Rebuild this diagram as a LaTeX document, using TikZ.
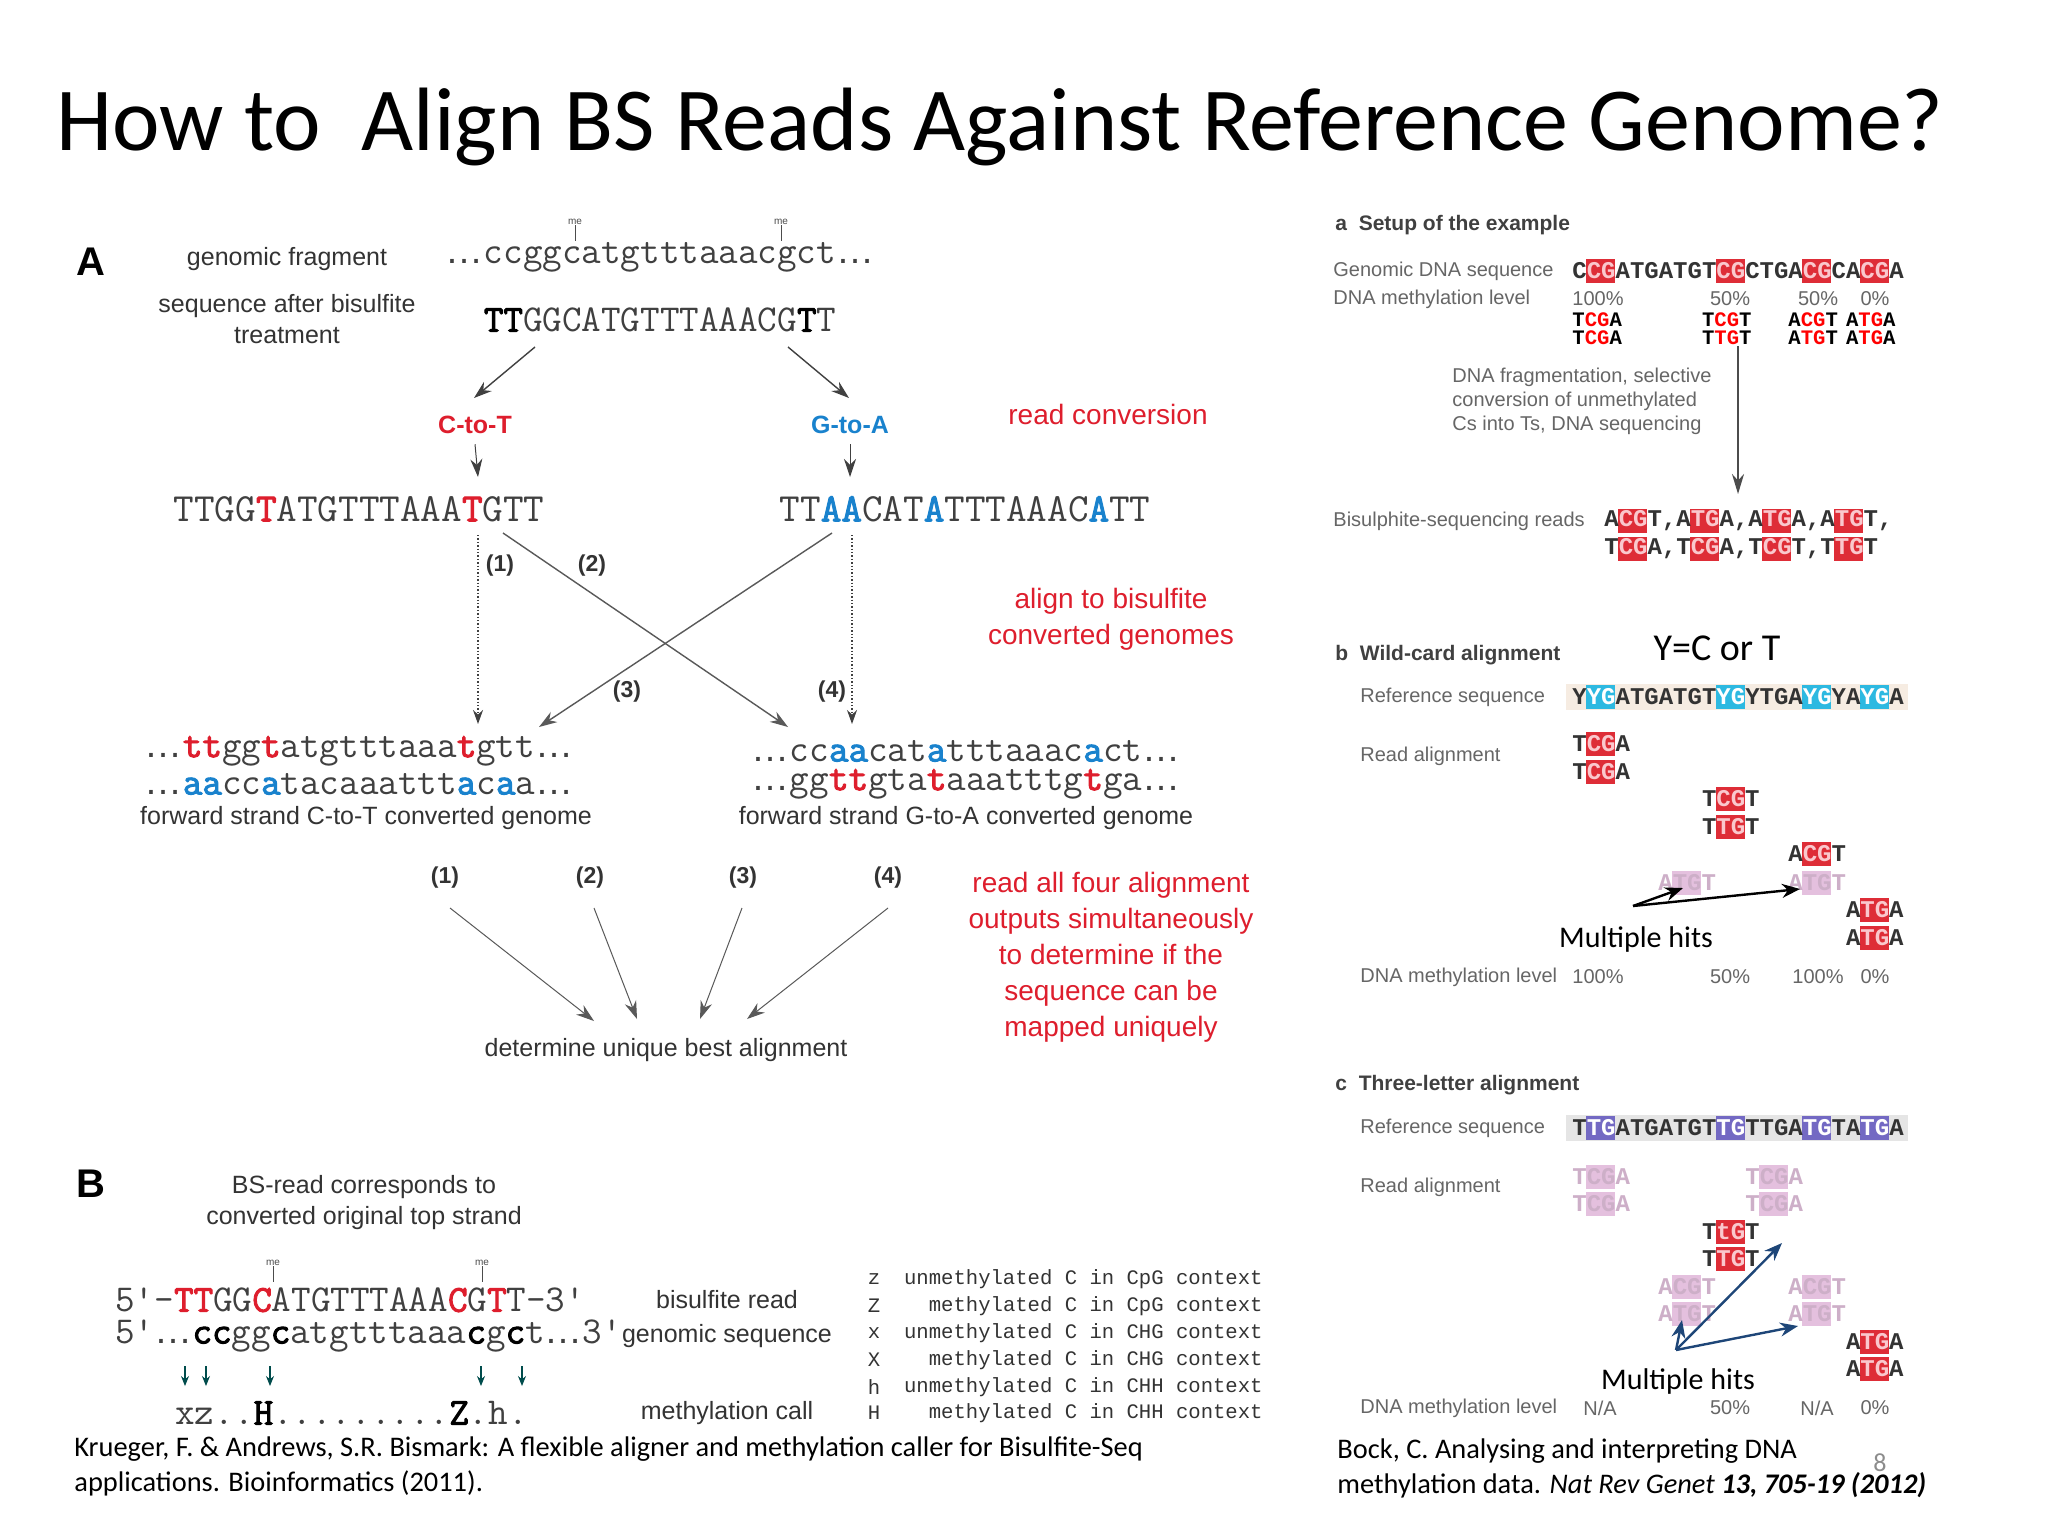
\documentclass[tikz,border=0pt]{standalone}
\usepackage{fontspec}
\setmainfont{Carlito}
\setsansfont{Liberation Sans}
\newfontfamily\lmtt{Latin Modern Mono}
\newfontfamily\lmttb[FakeBold=2.5]{Latin Modern Mono}
\newfontfamily\lmono{Liberation Mono}
\usetikzlibrary{arrows.meta}
\definecolor{cr}{RGB}{222,30,45}
\definecolor{cb}{RGB}{25,130,205}
\definecolor{bxr}{RGB}{222,45,55}
\definecolor{bxc}{RGB}{45,185,225}
\definecolor{bxp}{RGB}{115,105,195}
\definecolor{bxf}{RGB}{228,192,222}
\definecolor{txf}{RGB}{205,175,200}
\definecolor{lt}{RGB}{250,200,205}
\definecolor{nav}{RGB}{30,70,120}
\newcommand\RR[1]{{\lmttb\color{cr}#1}}
\newcommand\BB[1]{{\lmttb\color{cb}#1}}
\newcommand\KK[1]{{\lmttb\color{black}#1}}
\newcommand\el{{\sffamily\ldots}}
\tikzset{
 lab/.style={font=\sffamily\fontsize{12.5}{15.5}\selectfont, text=black!80, inner sep=0, align=center},
 redlab/.style={font=\sffamily\fontsize{14}{18}\selectfont, text=cr, align=center, inner sep=0},
 seqA/.style={font=\lmtt\fontsize{19}{20}\selectfont, inner sep=0, text=black!75},
 num/.style={font=\sffamily\bfseries\fontsize{11.5}{12}\selectfont, text=black!80, inner sep=0},
 small/.style={font=\sffamily\fontsize{10}{12}\selectfont, text=black!60, inner sep=0, anchor=west},
 hdr/.style={font=\sffamily\bfseries\fontsize{10.5}{12}\selectfont, text=black!75, inner sep=0, anchor=west},
 rs/.style={font=\lmono\bfseries\fontsize{12}{12}\selectfont, inner sep=0, anchor=west, text=black!80},
 leg/.style={font=\lmono\fontsize{10.3}{12}\selectfont, inner sep=0, text=black!80},
 cite/.style={font=\fontsize{14.2}{16}\selectfont, inner sep=0, anchor=west},
 me/.style={font=\sffamily\fontsize{5}{5}\selectfont, text=black!70, inner sep=0},
 arr/.style={-{Stealth[length=9pt,width=6pt]}, black!75, line width=0.7pt},
 darr/.style={-{Stealth[length=7pt,width=5pt]}, black!75, densely dotted, line width=0.7pt},
 harr/.style={-{Stealth[length=9pt,width=7pt]}, line width=1.2pt},
}
\newcommand\bseq[5]{\foreach \k in {#4}{\fill[#3] ({#1+\k*14.4},{#2-12}) rectangle ++(28.8,24);}\node[rs] at (#1,#2) {#5};}
\begin{document}
\begin{tikzpicture}[x=0.5pt,y=-0.5pt]
\useasboundingbox[fill=white] (0,0) rectangle (2048,1536);
\node[anchor=base west, inner sep=0, font=\fontsize{45}{50}\selectfont] (title) at (56,150) {How to\ \ Align BS Reads Against Reference Genome?};
\node[font=\sffamily\bfseries\fontsize{20}{20}\selectfont, inner sep=0] (pA) at (91,262) {A};
\node[lab] (gf) at (287,259) {genomic fragment};
\node[seqA] (gseq) at (660,257) {\el ccggcatgtttaaacgct\el};
\node[me] (me1) at (575,222) {me};
\node[me] (me2) at (781,222) {me};
\draw[black!70] (me1.south) -- ++(0,16);
\draw[black!70] (me2.south) -- ++(0,16);
\node[lab] (sab) at (287,319) {sequence after bisulfite\\treatment};
\node[seqA] (bseq) at (660,320) {\KK{TT}GGCATGTTTAAACG\KK{T}T};
\coordinate (a1s) at (535,347); \coordinate (a1e) at (474,398);
\coordinate (a2s) at (788,347); \coordinate (a2e) at (849,398);
\draw[arr] (a1s) -- (a1e);
\draw[arr] (a2s) -- (a2e);
\node[font=\sffamily\bfseries\fontsize{12.5}{14}\selectfont, text=cr, inner sep=0] (ct) at (475,425) {C-to-T};
\node[font=\sffamily\bfseries\fontsize{12.5}{14}\selectfont, text=cb, inner sep=0] (ga) at (850,425) {G-to-A};
\node[redlab] (rc) at (1108,414) {read conversion};
\node[seqA, font=\lmtt\fontsize{20}{20}\selectfont] (ctseq) at (359,509) {TTGG\RR{T}ATGTTTAAA\RR{T}GTT};
\node[seqA, font=\lmtt\fontsize{20}{20}\selectfont] (gaseq) at (965,509) {TT\BB{AA}CAT\BB{A}TTTAAAC\BB{A}TT};
\draw[arr,line width=0.5pt] (ct.south)++(0,10) -- (478,477);
\draw[arr,line width=0.5pt] (ga.south)++(0,10) -- (850,477);
\node[seqA] (ctg1) at (359,751) {\el\RR{tt}gg\RR{t}atgtttaaa\RR{t}gtt\el};
\node[seqA] (ctg2) at (359,784) {\el\BB{aa}cc\BB{a}tacaaattt\BB{a}c\BB{a}a\el};
\node[lab] (ctl) at (366,818) {forward strand C-to-T converted genome};
\node[seqA] (gag1) at (966,751) {\el cc\BB{aa}cat\BB{a}tttaaac\BB{a}ct\el};
\node[seqA] (gag2) at (966,784) {\el gg\RR{tt}gta\RR{t}aaatttg\RR{t}ga\el};
\node[lab] (gal) at (966,818) {forward strand G-to-A converted genome};
\coordinate (l1s) at (478,535); \coordinate (l1e) at (478,724);
\coordinate (l2s) at (503,533); \coordinate (l2e) at (788,727);
\coordinate (l3s) at (832,533); \coordinate (l3e) at (539,727);
\coordinate (l4s) at (852,535); \coordinate (l4e) at (852,724);
\draw[darr] (l1s) -- (l1e);
\draw[darr] (l4s) -- (l4e);
\draw[arr,black!65] (l2s) -- (l2e);
\draw[arr,black!65] (l3s) -- (l3e);
\node[num] (n1) at (500,566) {(1)};
\node[num] (n2) at (592,566) {(2)};
\node[num] (n3) at (627,692) {(3)};
\node[num] (n4) at (832,692) {(4)};
\node[redlab] (atb) at (1111,619) {align to bisulfite\\converted genomes};
\node[num] (m1) at (445,878) {(1)};
\node[num] (m2) at (590,878) {(2)};
\node[num] (m3) at (743,878) {(3)};
\node[num] (m4) at (888,878) {(4)};
\node[lab] (dub) at (666,1050) {determine unique best alignment};
\draw[arr,black!65,line width=0.5pt] (450,908) -- (594,1021);
\draw[arr,black!65,line width=0.5pt] (594,908) -- (637,1019);
\draw[arr,black!65,line width=0.5pt] (742,908) -- (700,1019);
\draw[arr,black!65,line width=0.5pt] (888,908) -- (747,1019);
\node[redlab] (raf) at (1111,957) {read all four alignment\\outputs simultaneously\\to determine if the\\sequence can be\\mapped uniquely};
\node[font=\sffamily\bfseries\fontsize{20}{20}\selectfont, inner sep=0] (pB) at (91,1184) {B};
\node[lab] (bsr) at (364,1203) {BS-read corresponds to\\converted original top strand};
\node[me] (me3) at (273,1263) {me};
\node[me] (me4) at (482,1263) {me};
\draw[black!70] (me3.south) -- ++(0,16);
\draw[black!70] (me4.south) -- ++(0,16);
\node[seqA, anchor=west] (bsread) at (115,1300) {5'-\RR{TT}GG\RR{C}ATGTTTAAA\RR{C}G\RR{T}T-3'};
\node[seqA, anchor=west] (gsq) at (115,1336) {5'\el\KK{cc}gg\KK{c}atgtttaaa\KK{c}g\KK{c}t\el3'};
\foreach \xx in {185,206,270,481,522}{\draw[-{Stealth[length=5pt,width=4pt]}, teal!60!black, line width=0.6pt] (\xx,1366) -- (\xx,1386);}
\node[seqA, anchor=west] (mc) at (175,1413) {xz..\KK{H}.........\KK{Z}.h.};
\node[lab] (l_br) at (727,1300) {bisulfite read};
\node[lab] (l_gs) at (727,1336) {genomic sequence};
\node[lab] (l_mc) at (727,1413) {methylation call};
\foreach \yy/\c/\t in {1279/z/unmethylated C in CpG context,1306/Z/methylated C in CpG context,1333/x/unmethylated C in CHG context,1360/X/methylated C in CHG context,1387/h/unmethylated C in CHH context,1413/H/methylated C in CHH context}{
 \node[leg] at (874,\yy) {\c};
 \node[leg, anchor=east] at (1263,\yy) {\t};
}
\node[cite] (c1) at (74,1449) {Krueger, F. \& Andrews, S.R. Bismark: A flexible aligner and methylation caller for Bisulfite-Seq};
\node[cite] (c2) at (74,1483) {applications. Bioinformatics (2011).};
\node[hdr] (ha) at (1335,225) {a\ \ Setup of the example};
\node[small] (gds) at (1333,271) {Genomic DNA sequence};
\bseq{1572}{271}{bxr}{1,10,16,20}{C\textcolor{lt}{CG}ATGATGT\textcolor{lt}{CG}CTGA\textcolor{lt}{CG}CA\textcolor{lt}{CG}A}
\node[small] (dml) at (1333,299) {DNA methylation level};
\foreach \xx/\p in {1598/100\%,1730/50\%,1818/50\%,1875/0\%}{\node[small,anchor=center] at (\xx,299) {\p};}
\tikzset{rk/.style={rs,text=black,font=\lmono\bfseries\fontsize{10.3}{10}\selectfont}}
\node[rk] at (1572,320) {T\textcolor{red}{CG}A}; \node[rk] at (1572,338) {T\textcolor{red}{CG}A};
\node[rk] at (1701.6,320) {T\textcolor{red}{CG}T}; \node[rk] at (1701.6,338) {T\textcolor{red}{TG}T};
\node[rk] at (1788,320) {A\textcolor{red}{CG}T}; \node[rk] at (1788,338) {A\textcolor{red}{TG}T};
\node[rk] at (1845.6,320) {A\textcolor{red}{TG}A}; \node[rk] at (1845.6,338) {A\textcolor{red}{TG}A};
\coordinate (va) at (1738,346); \coordinate (vb) at (1738,494);
\draw[-{Stealth[length=10pt,width=6pt]}, black!70, line width=1.1pt] (va) -- (vb);
\node[small, align=left] (frag) at (1452,401) {DNA fragmentation, selective\\conversion of unmethylated\\Cs into Ts, DNA sequencing};
\node[small] (bsrd) at (1333,521) {Bisulphite-sequencing reads};
\bseq{1604}{521}{bxr}{1,6,11,16}{A\textcolor{lt}{CG}T,A\textcolor{lt}{TG}A,A\textcolor{lt}{TG}A,A\textcolor{lt}{TG}T,}
\bseq{1604}{549}{bxr}{1,6,11,16}{T\textcolor{lt}{CG}A,T\textcolor{lt}{CG}A,T\textcolor{lt}{CG}T,T\textcolor{lt}{TG}T}
\node[hdr] (hb) at (1335,655) {b\ \ Wild-card alignment};
\node[inner sep=0, font=\fontsize{19}{20}\selectfont] (yct) at (1717,648) {Y=C or T};
\node[small] (rsb) at (1360,697) {Reference sequence};
\fill[brown!15] (1566,684) rectangle (1908,710);
\bseq{1572}{697}{bxc}{1,10,16,20}{Y\textcolor{white}{YG}ATGATGT\textcolor{white}{YG}YTGA\textcolor{white}{YG}YA\textcolor{white}{YG}A}
\node[small] (rab) at (1360,756) {Read alignment};
\bseq{1572}{744}{bxr}{1}{T\textcolor{lt}{CG}A}
\bseq{1572}{772}{bxr}{1}{T\textcolor{lt}{CG}A}
\bseq{1701.6}{799}{bxr}{1}{T\textcolor{lt}{CG}T}
\bseq{1701.6}{827}{bxr}{1}{T\textcolor{lt}{TG}T}
\bseq{1788}{854}{bxr}{1}{A\textcolor{lt}{CG}T}
\bseq{1658}{883}{bxf}{1}{\textcolor{txf}{ATGT}}
\bseq{1788}{883}{bxf}{1}{\textcolor{txf}{ATGT}}
\bseq{1845.6}{910}{bxr}{1}{A\textcolor{lt}{TG}A}
\bseq{1845.6}{938}{bxr}{1}{A\textcolor{lt}{TG}A}
\node[inner sep=0, font=\fontsize{15}{16}\selectfont] (mhb) at (1636,939) {Multiple hits};
\coordinate (hb0) at (1633,906);
\coordinate (hb1) at (1683,888); \coordinate (hb2) at (1800,889);
\draw[harr] (hb0) -- (hb1);
\draw[harr] (hb0) -- (hb2);
\node[small] (dmlb) at (1360,977) {DNA methylation level};
\foreach \xx/\p in {1598/100\%,1730/50\%,1818/100\%,1875/0\%}{\node[small,anchor=center] at (\xx,977) {\p};}
\node[hdr] (hc) at (1335,1085) {c\ \ Three-letter alignment};
\node[small] (rsc) at (1360,1128) {Reference sequence};
\fill[black!10] (1566,1115) rectangle (1908,1141);
\bseq{1572}{1128}{bxp}{1,10,16,20}{T\textcolor{white}{TG}ATGATGT\textcolor{white}{TG}TTGA\textcolor{white}{TG}TA\textcolor{white}{TG}A}
\node[small] (rac) at (1360,1187) {Read alignment};
\bseq{1572}{1177}{bxf}{1}{\textcolor{txf}{TCGA}}
\bseq{1572}{1204}{bxf}{1}{\textcolor{txf}{TCGA}}
\bseq{1745}{1177}{bxf}{1}{\textcolor{txf}{TCGA}}
\bseq{1745}{1204}{bxf}{1}{\textcolor{txf}{TCGA}}
\bseq{1701.6}{1232}{bxr}{1}{T\textcolor{lt}{tG}T}
\bseq{1701.6}{1259}{bxr}{1}{T\textcolor{lt}{TG}T}
\bseq{1658}{1287}{bxf}{1}{\textcolor{txf}{ACGT}}
\bseq{1658}{1314}{bxf}{1}{\textcolor{txf}{ATGT}}
\bseq{1788}{1287}{bxf}{1}{\textcolor{txf}{ACGT}}
\bseq{1788}{1314}{bxf}{1}{\textcolor{txf}{ATGT}}
\bseq{1845.6}{1342}{bxr}{1}{A\textcolor{lt}{TG}A}
\bseq{1845.6}{1369}{bxr}{1}{A\textcolor{lt}{TG}A}
\node[inner sep=0, font=\fontsize{15}{16}\selectfont] (mhc) at (1678,1381) {Multiple hits};
\coordinate (hc0) at (1676,1350);
\coordinate (hc1) at (1782,1243); \coordinate (hc2) at (1682,1320); \coordinate (hc3) at (1798,1326);
\draw[harr,nav] (hc0) -- (hc1);
\draw[harr,nav] (hc0) -- (hc2);
\draw[harr,nav] (hc0) -- (hc3);
\node[small] (dmlc) at (1360,1408) {DNA methylation level};
\foreach \xx/\p in {1600/N\slash A,1730/50\%,1817/N\slash A,1875/0\%}{\node[small,anchor=center] at (\xx,1408) {\p};}
\node[cite] (c3) at (1337,1451) {Bock, C. Analysing and interpreting DNA};
\node[cite] (c4) at (1337,1485) {methylation data. \textit{Nat Rev Genet} \textbf{\textit{13, 705-19 (2012)}}};
\node[inner sep=0, font=\fontsize{13}{14}\selectfont, text=black!45] (pg) at (1880,1463) {8};
\end{tikzpicture}
\end{document}
